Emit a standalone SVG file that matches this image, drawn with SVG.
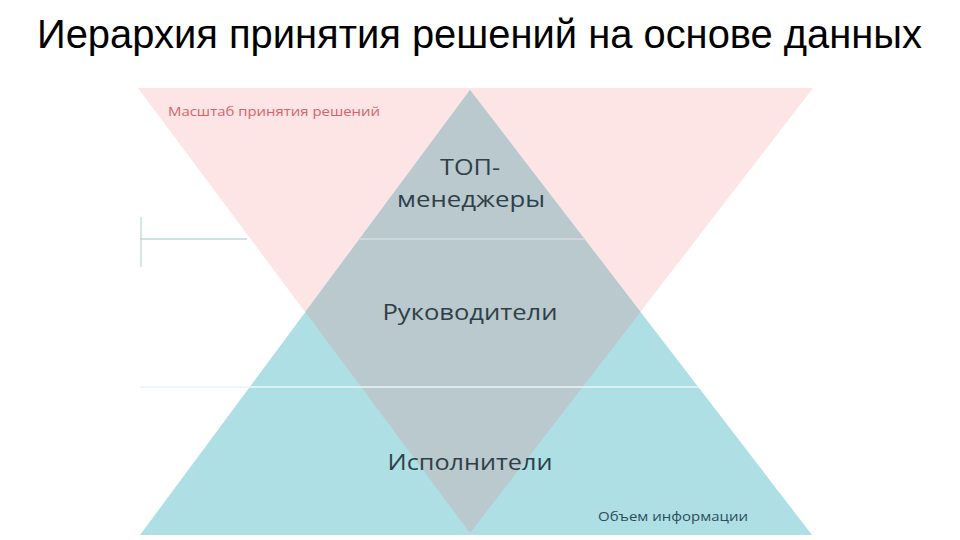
<svg xmlns="http://www.w3.org/2000/svg" width="960" height="540" viewBox="0 0 960 540">
  <style>
    .title { font-family: "Liberation Sans", Arial, sans-serif; font-size: 40px; fill: #000; }
    .lvl { font-family: "Open Sans", "Noto Sans", sans-serif; font-size: 22px; fill: #2f3f49; text-anchor: middle; }
    .small { font-family: "Open Sans", "Noto Sans", sans-serif; font-size: 12.5px; }
    .rule { stroke-width: 1.5; fill: none; }
  </style>
  <rect width="960" height="540" fill="#ffffff"/>
  <text class="title" x="37" y="48" textLength="885" lengthAdjust="spacingAndGlyphs">Иерархия принятия решений на основе данных</text>

  <g id="scale-triangle">
    <polygon points="138,88 813,88 470,533" fill="#fde4e5"/>
  </g>
  <g id="info-triangle">
    <polygon points="470,90 812,535 140,535" fill="#aedfe5"/>
  </g>
  <g id="overlap">
    <polygon points="470,90 640.5,312 470,533 305.3,312" fill="#b9c9cd"/>
  </g>

  <g id="connectors">
    <line class="rule" x1="141" y1="217" x2="141" y2="267" stroke="#c5dfe3"/>
    <line class="rule" x1="140" y1="239" x2="247" y2="239" stroke="#bcd9de"/>
    <line class="rule" x1="359.5" y1="239" x2="584.5" y2="239" stroke="#d3dee0"/>
    <line class="rule" x1="140" y1="387" x2="698" y2="387" stroke="#e8f6f8"/>
  </g>

  <g id="label-scale">
    <text class="small" x="168" y="116" fill="#d4646c" textLength="212" lengthAdjust="spacingAndGlyphs">Масштаб принятия решений</text>
  </g>
  <g id="node-top">
    <text class="lvl" x="470" y="175" textLength="60" lengthAdjust="spacingAndGlyphs">ТОП-</text>
    <text class="lvl" x="471" y="207" textLength="148" lengthAdjust="spacingAndGlyphs">менеджеры</text>
  </g>
  <g id="node-managers">
    <text class="lvl" x="470" y="320" textLength="175" lengthAdjust="spacingAndGlyphs">Руководители</text>
  </g>
  <g id="node-executors">
    <text class="lvl" x="470" y="470" fill="#1f4f5f" textLength="165" lengthAdjust="spacingAndGlyphs">Исполнители</text>
  </g>
  <g id="label-info">
    <text class="small" x="598" y="521" fill="#2c4d5a" textLength="150" lengthAdjust="spacingAndGlyphs">Объем информации</text>
  </g>
</svg>
